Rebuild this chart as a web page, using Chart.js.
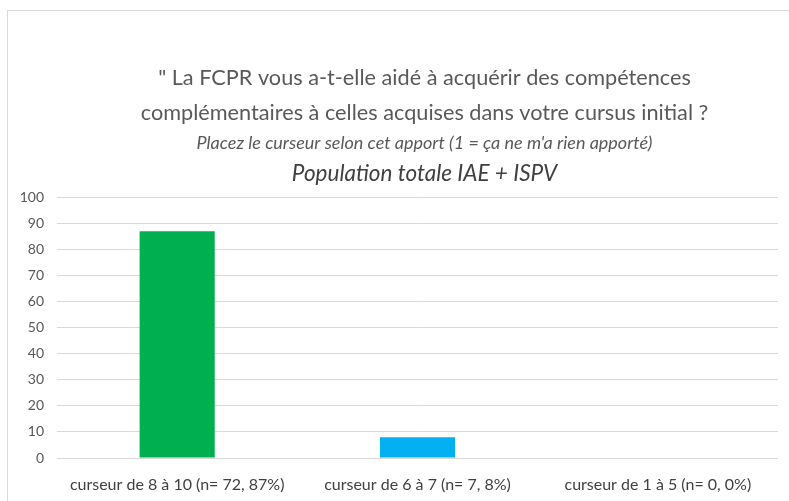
<!DOCTYPE html>
<html><head><meta charset="utf-8">
<script src="https://cdn.jsdelivr.net/npm/chart.js@4.4.1/dist/chart.umd.min.js"></script>
<style>
html,body{margin:0;padding:0;background:#fff;width:789px;height:501px;overflow:hidden;}
#frame{position:absolute;left:7px;top:10px;width:800px;height:520px;border:1px solid #d9d9d9;box-sizing:border-box;}
#c{position:absolute;left:0;top:0;display:block;}
</style></head><body>
<div id="frame"></div>
<canvas id="c" width="789" height="501"></canvas>
<script>
const categories = ["curseur de 8 à 10 (n= 72, 87%)", "curseur de 6 à 7 (n= 7, 8%)", "curseur de 1 à 5 (n= 0, 0%)"];
const values = [87, 8, 0];
const barColors = ["#00b050", "#00b0f0", "#a5a5a5"];
const titleLines = ["\" La FCPR vous a-t-elle aidé à acquérir des compétences", "complémentaires à celles acquises dans votre cursus initial ?"];
const subtitleLine = "Placez le curseur selon cet apport (1 = ça ne m'a rien apporté)";
const populationLine = "Population totale IAE + ISPV";
const FONT = "Lato, 'Open Sans', sans-serif";
const TITLE_SHIFT = 7;

const titleShift = {
  id: 'titleShift',
  afterLayout(chart) {
    chart.boxes.forEach(b => {
      if (b.options && typeof b.options.text !== 'undefined' && b.options.position === 'top') {
        b.left += TITLE_SHIFT; b.right += TITLE_SHIFT;
      }
    });
  },
  afterDraw(chart) {
    const ctx = chart.ctx;
    const ca = chart.chartArea;
    ctx.save();
    ctx.font = "italic 18px " + FONT;
    ctx.fillStyle = "#595959";
    ctx.textAlign = "center";
    ctx.textBaseline = "middle";
    ctx.fillText(subtitleLine, (ca.left + ca.right) / 2 + TITLE_SHIFT, 143);
    ctx.restore();
  }
};

new Chart(document.getElementById('c'), {
  type: 'bar',
  data: {
    labels: categories,
    datasets: [{ data: values, backgroundColor: barColors, barPercentage: 0.3125, categoryPercentage: 1.0 }]
  },
  options: {
    responsive: false,
    animation: false,
    layout: { padding: { left: 21, right: 11, top: 60, bottom: 7 } },
    plugins: {
      legend: { display: false },
      tooltip: { enabled: false },
      title: {
        display: true, text: titleLines, fullSize: false,
        color: "#595959", font: { family: FONT, size: 21.7, weight: 'normal', lineHeight: 1.62 },
        padding: { top: 0, bottom: 29.5 }
      },
      subtitle: {
        display: true, text: populationLine, fullSize: false,
        color: "#404040", font: { family: FONT, size: 22.5, style: 'italic', weight: 'normal', lineHeight: 1.2 },
        padding: { top: 0, bottom: 10.5 }
      }
    },
    scales: {
      x: {
        grid: { display: false, drawTicks: false }, border: { display: false },
        ticks: { color: "#404040", font: { family: FONT, size: 16, lineHeight: 1.2 }, padding: 17, maxRotation: 0, autoSkip: false },
        afterFit(scale) { scale.height = 36; }
      },
      y: {
        min: 0, max: 100,
        ticks: { stepSize: 10, color: "#595959", font: { family: FONT, size: 14 }, padding: 13 },
        grid: { color: "#d9d9d9", drawTicks: false },
        border: { display: false },
        afterFit(scale) { scale.width = 36; }
      }
    }
  },
  plugins: [titleShift]
});
</script>
</body></html>
